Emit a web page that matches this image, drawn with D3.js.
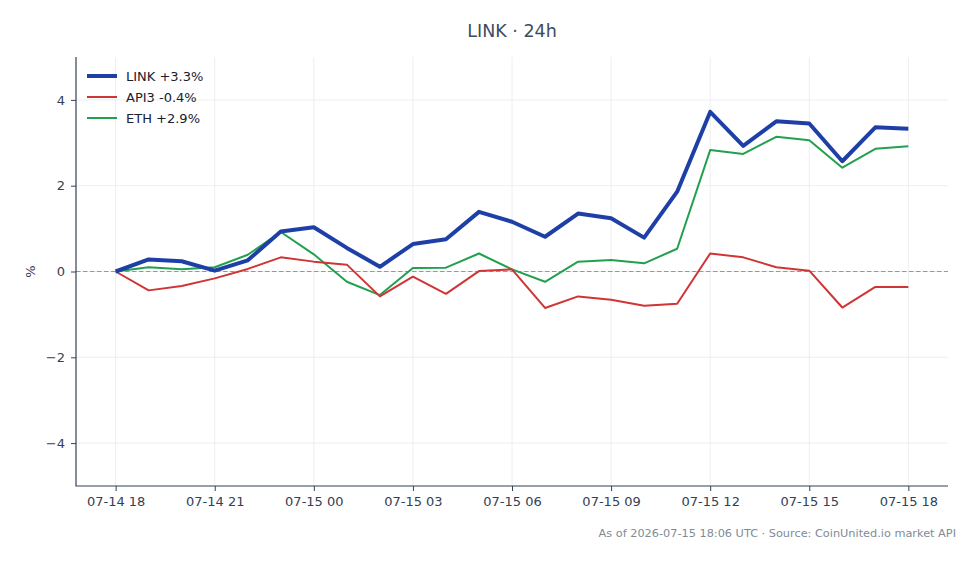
<!DOCTYPE html>
<html>
<head>
<meta charset="utf-8">
<script src="https://cdn.jsdelivr.net/npm/d3@7"></script>
<style>
  body { margin: 0; background: #fff; }
  svg { display: block; font-family: "DejaVu Sans", sans-serif; }
</style>
</head>
<body>
<div id="chart"></div>
<script>
// hourly % change vs 07-14 18:00 UTC
const hours = d3.range(25)
const startTime = Date.UTC(2026, 6, 14, 18)
const linkVals = [0, 0.28, 0.24, 0.02, 0.26, 0.93, 1.03, 0.55, 0.11, 0.64, 0.75, 1.39, 1.16, 0.81, 1.35, 1.24, 0.79, 1.86, 3.72, 2.93, 3.5, 3.45, 2.57, 3.36, 3.33]
const api3Vals = [0, -0.44, -0.34, -0.16, 0.06, 0.33, 0.23, 0.16, -0.58, -0.12, -0.52, 0.01, 0.05, -0.85, -0.58, -0.66, -0.8, -0.75, 0.42, 0.33, 0.1, 0.02, -0.84, -0.36, -0.36]
const ethVals = [0, 0.1, 0.05, 0.1, 0.39, 0.92, 0.4, -0.24, -0.55, 0.08, 0.09, 0.42, 0.05, -0.24, 0.23, 0.27, 0.19, 0.53, 2.83, 2.74, 3.14, 3.06, 2.42, 2.86, 2.92]
const seriesNames = ["LINK", "API3", "ETH"]
const yTicks = [-4, -2, 0, 2, 4]

const width = 980, height = 564
const margin = { top: 57, right: 32, bottom: 78, left: 76 }

const series = [
    { name: seriesNames[0], values: linkVals, color: "#1e40a6", width: 4 },
    { name: seriesNames[1], values: api3Vals, color: "#d03434", width: 2 },
    { name: seriesNames[2], values: ethVals, color: "#22a04e", width: 2 }
]

const times = hours.map(h => new Date(startTime + h * 3600e3))
const pad = 1.2 * 3600e3

const x = d3.scaleUtc()
    .domain([new Date(startTime - pad), new Date(+times[times.length - 1] + pad)])
    .range([margin.left, width - margin.right])
const y = d3.scaleLinear()
    .domain([-5, 5])
    .range([height - margin.bottom, margin.top])

const svg = d3.select("#chart").append("svg")
    .attr("width", width)
    .attr("height", height)
    .attr("viewBox", [0, 0, width, height])

const axisColor = "#334155"
const xTicks = d3.range(0, 25, 3).map(h => new Date(startTime + h * 3600e3))

// grid
svg.append("g")
    .attr("stroke", "#e8eaee")
    .attr("stroke-width", 0.8)
    .call(g => g.selectAll(".v").data(xTicks).join("line")
        .attr("x1", d => x(d)).attr("x2", d => x(d))
        .attr("y1", margin.top).attr("y2", height - margin.bottom))
    .call(g => g.selectAll(".h").data(yTicks).join("line")
        .attr("x1", margin.left).attr("x2", width - margin.right)
        .attr("y1", d => y(d)).attr("y2", d => y(d)))

// zero line
svg.append("line")
    .attr("x1", margin.left).attr("x2", width - margin.right)
    .attr("y1", y(0)).attr("y2", y(0))
    .attr("stroke", "#8a9bb0")
    .attr("stroke-width", 1.1)
    .attr("stroke-dasharray", "4.5,2.5")

// lines
const line = d3.line()
    .x((d, i) => x(times[i]))
    .y(d => y(d))

svg.append("g")
    .attr("fill", "none")
    .selectAll("path")
    .data(series.slice().reverse())
    .join("path")
    .attr("d", d => line(d.values))
    .attr("stroke", d => d.color)
    .attr("stroke-width", d => d.width)
    .attr("stroke-linejoin", "round")

// axes
const xAxis = svg.append("g")
    .attr("transform", `translate(0,${height - margin.bottom})`)
    .call(d3.axisBottom(x).tickValues(xTicks).tickFormat(d3.utcFormat("%m-%d %H")).tickSizeOuter(0).tickSize(5).tickPadding(6))
const yAxis = svg.append("g")
    .attr("transform", `translate(${margin.left},0)`)
    .call(d3.axisLeft(y).tickValues(yTicks).tickFormat(d => d < 0 ? "\u2212" + Math.abs(d) : d).tickSizeOuter(0).tickSize(5).tickPadding(6))

for (const ax of [xAxis, yAxis]) {
    ax.select(".domain").remove()
    ax.selectAll(".tick line").attr("stroke", axisColor).attr("stroke-width", 1)
    ax.selectAll(".tick text").attr("fill", axisColor).style("font-size", "13px").style("font-family", "DejaVu Sans")
}

// spines (left + bottom only)
svg.append("path")
    .attr("d", `M${margin.left},${margin.top}V${height - margin.bottom}H${width - margin.right}`)
    .attr("fill", "none")
    .attr("stroke", axisColor)
    .attr("stroke-width", 1.2)

// y label
svg.append("text")
    .attr("transform", `translate(35,${y(0)}) rotate(-90)`)
    .attr("text-anchor", "middle")
    .attr("fill", axisColor)
    .style("font-size", "13px")
    .text("%")

// title
svg.append("text")
    .attr("x", (margin.left + width - margin.right) / 2)
    .attr("y", 37)
    .attr("text-anchor", "middle")
    .attr("fill", "#3e4c5e")
    .style("font-size", "17.5px")
    .text("LINK \u00b7 24h")

// legend
const fmtPct = v => (v >= 0 ? "+" : "") + v.toFixed(1) + "%"
const legend = svg.append("g")
    .selectAll("g")
    .data(series)
    .join("g")
    .attr("transform", (d, i) => `translate(87,${76 + i * 21})`)
legend.append("line")
    .attr("x1", 0).attr("x2", 30)
    .attr("stroke", d => d.color)
    .attr("stroke-width", d => d.width)
legend.append("text")
    .attr("x", 39)
    .attr("dy", "0.35em")
    .attr("fill", "#1a202c")
    .style("font-size", "13px")
    .text(d => `${d.name} ${fmtPct(d.values[d.values.length - 1])}`)

// footer
svg.append("text")
    .attr("x", 956)
    .attr("y", 537)
    .attr("text-anchor", "end")
    .attr("fill", "#808b98")
    .style("font-size", "11.3px")
    .text("As of 2026-07-15 18:06 UTC \u00b7 Source: CoinUnited.io market API")
</script>
</body>
</html>
